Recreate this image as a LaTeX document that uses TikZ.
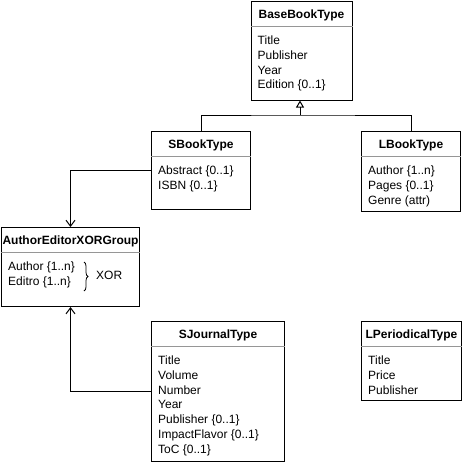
\documentclass[tikz,border=0pt]{standalone}
\usepackage{fontspec}
\setmainfont{Liberation Sans}
\usetikzlibrary{arrows.meta,decorations.pathreplacing,calc}
\definecolor{sepgray}{RGB}{150,150,150}
\tikzset{
  clsbox/.style={draw=black, line width=1pt, anchor=north west, inner sep=0pt, fill=white},
  hdr/.style={anchor=base, inner sep=0pt, font=\fontsize{12}{14.8}\selectfont\bfseries},
  body/.style={anchor=north west, inner sep=0pt, align=left, font=\fontsize{12}{14.8}\selectfont},
  sepline/.style={draw=sepgray, line width=1pt},
  conn/.style={draw=black, line width=1pt},
  assoc/.style={conn, -{Straight Barb[length=6pt,width=9pt,line width=1pt]}},
  inherit/.style={conn, -{Triangle[open,length=7pt,width=8pt,line width=1pt]}}
}
\newcommand{\classbox}[7]{%
  % #1 name, #2 left, #3 top, #4 width, #5 height, #6 header, #7 body
  \node[clsbox, minimum width=#4pt, minimum height=#5pt] (#1) at (#2,#3) {};
  \node[hdr] (#1h) at ($(#1.north)+(0,17.5)$) {#6};
  \draw[sepline] ($(#1.north west)+(0,25)$) -- ($(#1.north east)+(0,25)$);
  \node[body] (#1b) at ($(#1.north west)+(7,34.3)$) {\rule{0pt}{9pt}#7};
}
\begin{document}
\begin{tikzpicture}[x=1pt,y=-1pt]
\useasboundingbox[fill=white] (0,0) rectangle (462,464);

\classbox{base}{250.5}{1}{101}{98.5}{BaseBookType}{Title\\Publisher\\Year\\Edition \{0..1\}}
\classbox{sbook}{151}{131}{99}{78}{SBookType}{Abstract \{0..1\}\\ISBN \{0..1\}}
\classbox{lbook}{361}{131}{99}{80}{LBookType}{Author \{1..n\}\\Pages \{0..1\}\\Genre (attr)}
\classbox{aeg}{1}{227}{138}{79}{AuthorEditorXORGroup}{Author \{1..n\}\\Editro \{1..n\}}
\classbox{sjour}{151}{321}{133}{140}{SJournalType}{Title\\Volume\\Number\\Year\\Publisher \{0..1\}\\ImpactFlavor \{0..1\}\\ToC \{0..1\}}
\classbox{lper}{361}{321}{100}{79}{LPeriodicalType}{Title\\Price\\Publisher}

% inheritance
\coordinate (junc) at (300,115);
\draw[conn] (sbook.north) |- (junc) -| (lbook.north);
\draw[inherit] (junc) -- (base.south -| junc);

% associations
\draw[assoc] (sbook.west) -| (aeg.north);
\draw[assoc] (sjour.west) -| (aeg.south);

% XOR brace
\coordinate (bt) at (84,262);
\coordinate (bb) at (84,291);
\draw[line width=0.8pt, decorate, decoration={brace, amplitude=4pt}] (bt) -- (bb);
\node[anchor=base west, inner sep=0pt, font=\fontsize{12}{14.8}\selectfont] (xor) at (96,279.5) {XOR};
\end{tikzpicture}
\end{document}
